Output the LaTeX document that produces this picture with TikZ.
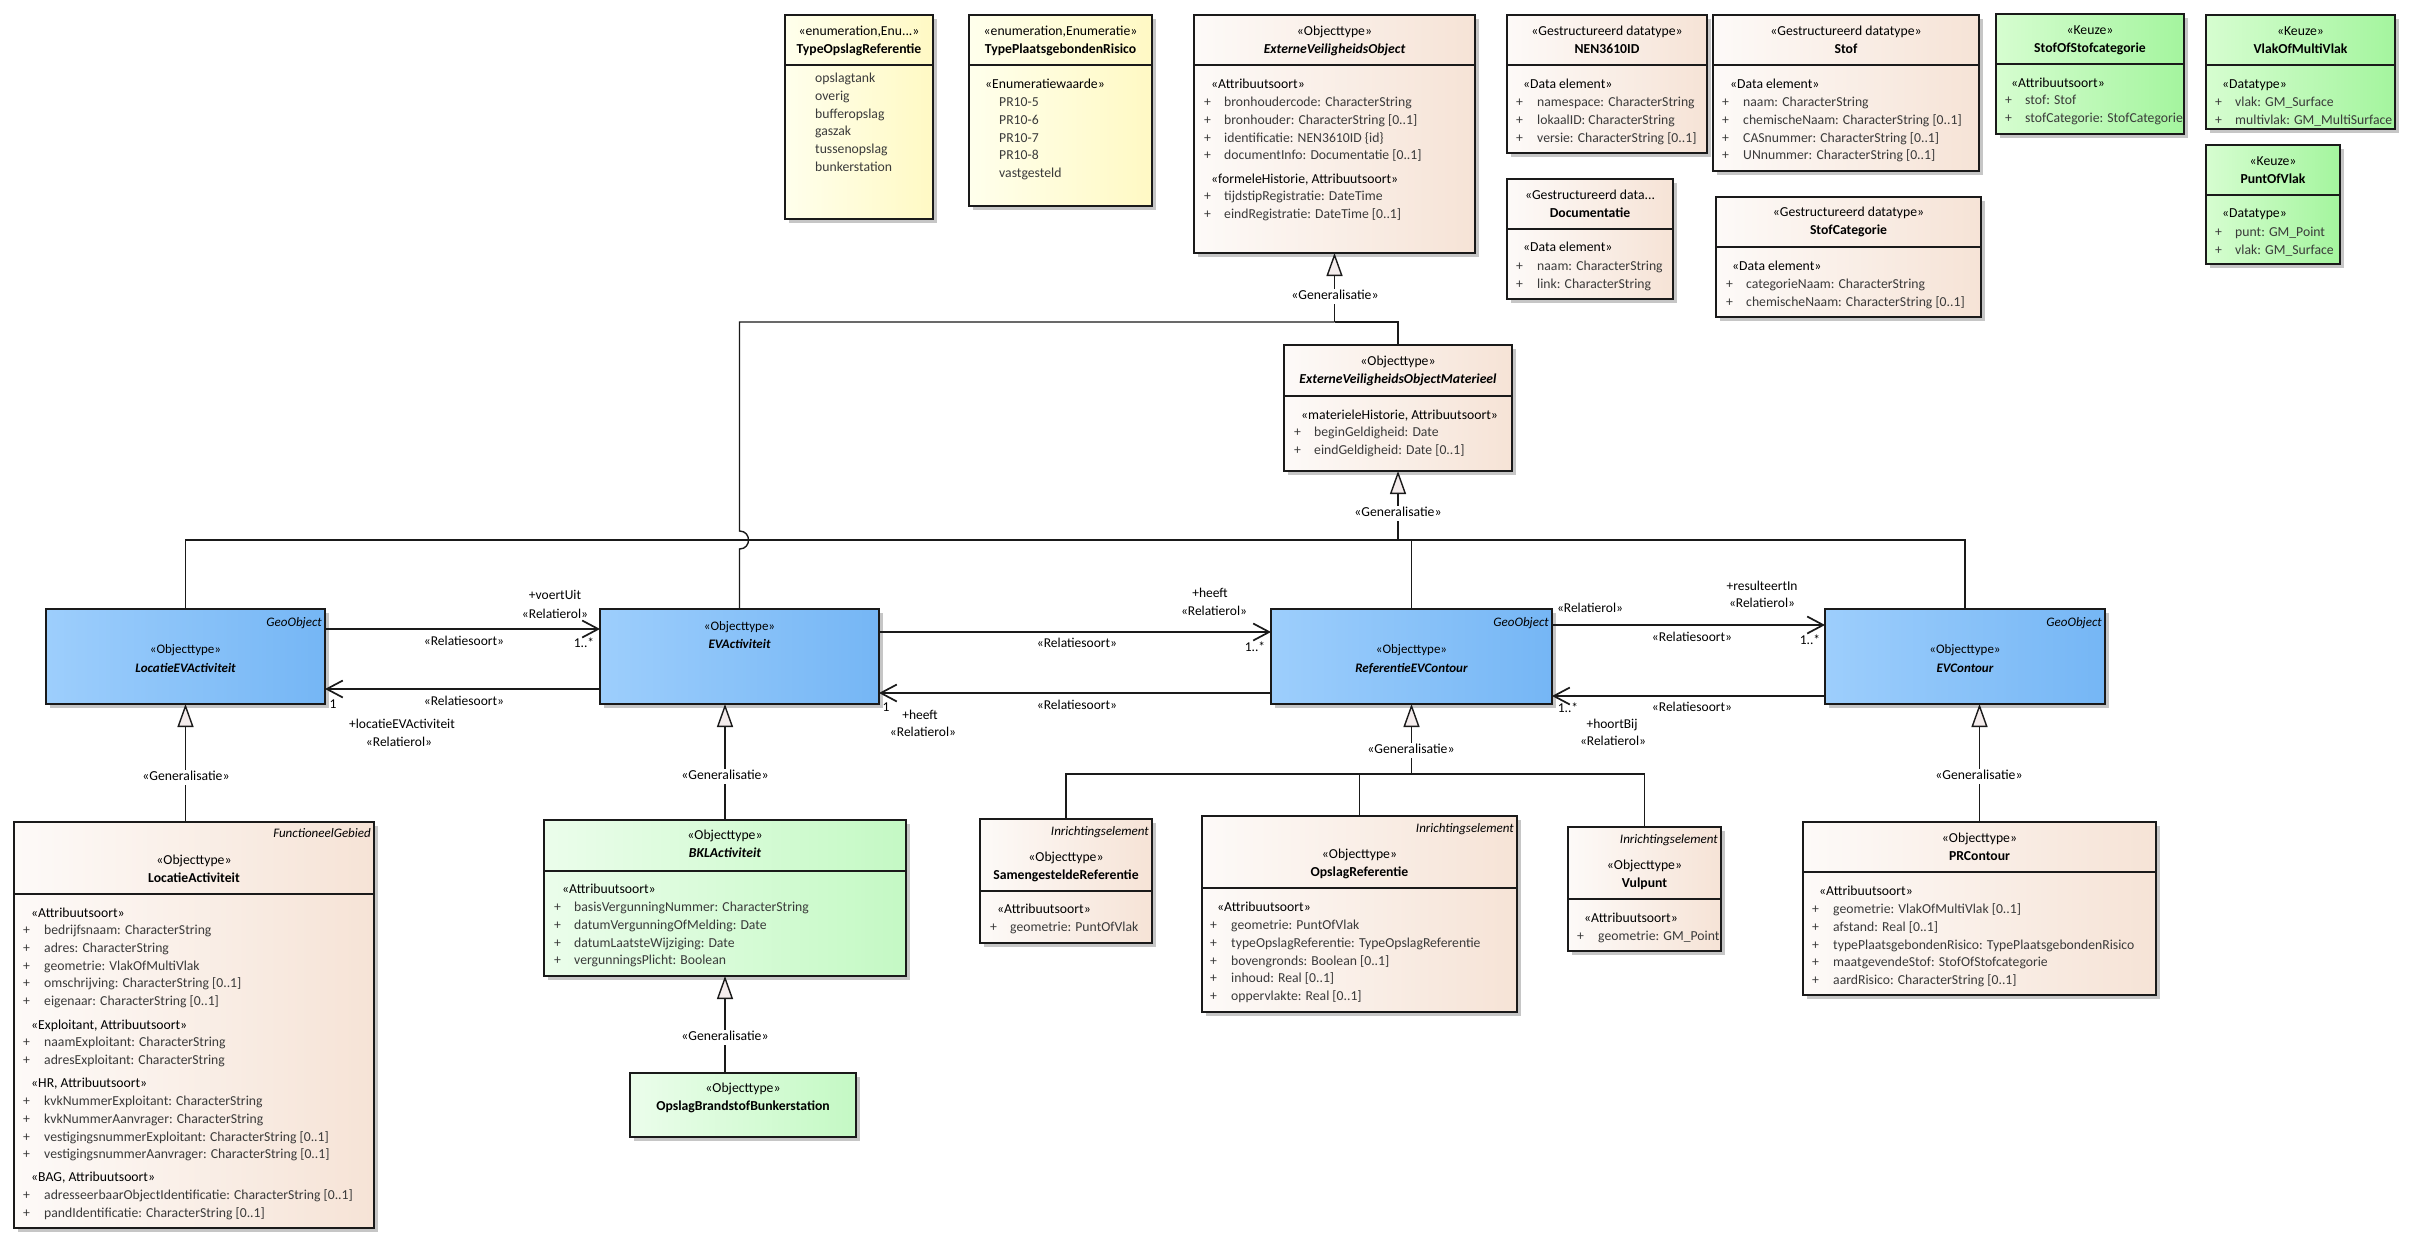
\documentclass[tikz,border=0pt]{standalone}
\usepackage{fontspec}
\setmainfont{Carlito}
\usetikzlibrary{arrows.meta}

\definecolor{edge}{HTML}{1A1A1A}
\definecolor{txt}{HTML}{3A3A3A}
\definecolor{orL}{HTML}{FDFAF8}
\definecolor{orR}{HTML}{F6E3D6}
\definecolor{blL}{HTML}{9DCEFC}
\definecolor{blR}{HTML}{75B6F5}
\definecolor{grL}{HTML}{D6FDD0}
\definecolor{grR}{HTML}{A4F59E}
\definecolor{lgL}{HTML}{EBFDEB}
\definecolor{lgR}{HTML}{C4F9C4}
\definecolor{ylL}{HTML}{FFFFEC}
\definecolor{ylR}{HTML}{FFF9C4}
\definecolor{genfill}{HTML}{F4ECEC}
\definecolor{boxshade}{HTML}{C6C6C6}

\newcommand\umlclass[6]{%
  \fill[boxshade] (#2+4,#3+4) rectangle (#4+4,#5+4);
  \node[classbox,#6,minimum width={#4-#2},minimum height={#5-#3}] (#1) at ({(#2+#4)/2},{(#3+#5)/2}) {};}
\newcommand\umldiv[2]{\draw[compline] (#1.west |- 0,#2) -- (#1.east |- 0,#2);}
\newcommand\umlhead[5]{%
  \node[stereo] (#1-st) at (#1.center |- 0,#2) {#3};
  \node[#4] (#1-nm) at (#1.center |- 0,#2+18) {#5};}
\newcommand\umlattrs[5]{%
  \foreach \a [count=\i from 0] in {#5} {
    \node[attr] (#1-p\i) at (#2,{#4+17.8*\i}) {+};
    \node[attr] (#1-a\i) at (#3,{#4+17.8*\i}) {\a};}}

\begin{document}
\begin{tikzpicture}[x=1pt,y=-1pt,
    every node/.style={font=\fontsize{13.7}{17}\selectfont,inner sep=0pt,text height=10pt,text depth=3pt},
    classbox/.style={draw=edge,line width=1.6pt,outer sep=0pt},
    orbox/.style={left color=orL,right color=orR},
    bluebox/.style={left color=blL,right color=blR},
    greenbox/.style={left color=grL,right color=grR},
    lightgreen/.style={left color=lgL,right color=lgR},
    yellowbox/.style={left color=ylL,right color=ylR},
    compline/.style={draw=edge,line width=1.6pt},
    stereo/.style={text=black},
    title/.style={font=\fontsize{13.7}{17}\selectfont\bfseries},
    abstract/.style={font=\fontsize{13.7}{17}\selectfont\bfseries\itshape},
    small/.style={font=\fontsize{13}{16}\selectfont},
    smallabs/.style={font=\fontsize{13}{16}\selectfont\bfseries\itshape},
    attr/.style={anchor=west,text=txt},
    tag/.style={anchor=east,font=\fontsize{13}{16}\selectfont\itshape},
    rl/.style={font=\fontsize{13.5}{16}\selectfont},
    genline/.style={draw=edge,line width=1.4pt},
    gen/.style={genline,-{Triangle[length=23pt,width=16pt,fill=genfill]}},
    assoc/.style={draw=edge,line width=1.7pt,-{Straight Barb[length=16pt,width=17pt]}},
    genlbl/.style={fill=white,inner sep=1pt}]

  \fill[white] (0,0) rectangle (2420,1247);
  \useasboundingbox (0,0) rectangle (2420,1247);

  % top row
  \umlclass{TOR}{785}{15}{933}{219}{yellowbox}
  \umldiv{TOR}{65}
  \umlhead{TOR}{32}{«enumeration,Enu...»}{title}{TypeOpslagReferentie}
  \foreach \v [count=\i from 0] in {opslagtank,overig,bufferopslag,gaszak,tussenopslag,bunkerstation}
    \node[attr] (TOR-v\i) at (815,{79+17.8*\i}) {\v};

  \umlclass{TPR}{969}{15}{1152}{206}{yellowbox}
  \umldiv{TPR}{65}
  \umlhead{TPR}{32}{«enumeration,Enumeratie»}{title}{TypePlaatsgebondenRisico}
  \node[stereo,anchor=west] (TPR-c) at (985,85) {«Enumeratiewaarde»};
  \foreach \v [count=\i from 0] in {PR10-5,PR10-6,PR10-7,PR10-8,vastgesteld}
    \node[attr] (TPR-v\i) at (999,{103+17.8*\i}) {\v};

  \umlclass{EVO}{1194}{15}{1475}{253}{orbox}
  \umldiv{EVO}{65}
  \umlhead{EVO}{32}{«Objecttype»}{abstract}{ExterneVeiligheidsObject}
  \node[stereo,anchor=west] (EVO-c1) at (1211,85) {«Attribuutsoort»};
  \umlattrs{EVO1}{1204}{1224}{103}{bronhoudercode: CharacterString,bronhouder: CharacterString [0..1],identificatie: NEN3610ID \{id\},documentInfo: Documentatie [0..1]}
  \node[stereo,anchor=west] (EVO-c2) at (1211,180) {«formeleHistorie, Attribuutsoort»};
  \umlattrs{EVO2}{1204}{1224}{197}{tijdstipRegistratie: DateTime,eindRegistratie: DateTime [0..1]}

  \umlclass{NEN}{1507}{15}{1707}{153}{orbox}
  \umldiv{NEN}{65}
  \umlhead{NEN}{32}{«Gestructureerd datatype»}{title}{NEN3610ID}
  \node[stereo,anchor=west] (NEN-c) at (1523,85) {«Data element»};
  \umlattrs{NEN}{1516}{1537}{103}{namespace: CharacterString,lokaalID: CharacterString,versie: CharacterString [0..1]}

  \umlclass{STOF}{1713}{15}{1979}{171}{orbox}
  \umldiv{STOF}{65}
  \umlhead{STOF}{32}{«Gestructureerd datatype»}{title}{Stof}
  \node[stereo,anchor=west] (STOF-c) at (1730,85) {«Data element»};
  \umlattrs{STOF}{1722}{1743}{103}{naam: CharacterString,chemischeNaam: CharacterString [0..1],CASnummer: CharacterString [0..1],UNnummer: CharacterString [0..1]}

  \umlclass{DOC}{1507}{179}{1673}{299}{orbox}
  \umldiv{DOC}{229}
  \umlhead{DOC}{196}{«Gestructureerd data...}{title}{Documentatie}
  \node[stereo,anchor=west] (DOC-c) at (1523,248) {«Data element»};
  \umlattrs{DOC}{1516}{1537}{267}{naam: CharacterString,link: CharacterString}

  \umlclass{STC}{1716}{197}{1981}{317}{orbox}
  \umldiv{STC}{247}
  \umlhead{STC}{213}{«Gestructureerd datatype»}{title}{StofCategorie}
  \node[stereo,anchor=west] (STC-c) at (1732,267) {«Data element»};
  \umlattrs{STC}{1726}{1746}{285}{categorieNaam: CharacterString,chemischeNaam: CharacterString [0..1]}

  \umlclass{SOS}{1996}{14}{2184}{134}{greenbox}
  \umldiv{SOS}{64}
  \umlhead{SOS}{31}{«Keuze»}{title}{StofOfStofcategorie}
  \node[stereo,anchor=west] (SOS-c) at (2011,84) {«Attribuutsoort»};
  \umlattrs{SOS}{2005}{2025}{101}{stof: Stof,stofCategorie: StofCategorie}

  \umlclass{VMV}{2206}{15}{2395}{129}{greenbox}
  \umldiv{VMV}{65}
  \umlhead{VMV}{32}{«Keuze»}{title}{VlakOfMultiVlak}
  \node[stereo,anchor=west] (VMV-c) at (2222,85) {«Datatype»};
  \umlattrs{VMV}{2215}{2235}{103}{vlak: GM\_Surface,multivlak: GM\_MultiSurface}

  \umlclass{POV}{2206}{145}{2340}{264}{greenbox}
  \umldiv{POV}{195}
  \umlhead{POV}{162}{«Keuze»}{title}{PuntOfVlak}
  \node[stereo,anchor=west] (POV-c) at (2222,214) {«Datatype»};
  \umlattrs{POV}{2215}{2235}{233}{punt: GM\_Point,vlak: GM\_Surface}

  \umlclass{EVOM}{1284}{345}{1512}{471}{orbox}
  \umldiv{EVOM}{396}
  \umlhead{EVOM}{362}{«Objecttype»}{abstract}{ExterneVeiligheidsObjectMaterieel}
  \node[stereo,anchor=west] (EVOM-c) at (1301,416) {«materieleHistorie, Attribuutsoort»};
  \umlattrs{EVOM}{1294}{1314}{433}{beginGeldigheid: Date,eindGeldigheid: Date [0..1]}

  % middle row
  \umlclass{LEA}{46}{609}{325}{704}{bluebox}
  \node[tag] (LEA-tag) at ([xshift=-3pt]LEA.east |- 0,623) {GeoObject};
  \node[small] (LEA-st) at (LEA.center |- 0,650) {«Objecttype»};
  \node[smallabs] (LEA-nm) at (LEA.center |- 0,669) {LocatieEVActiviteit};

  \umlclass{EVA}{600}{609}{879}{704}{bluebox}
  \node[small] (EVA-st) at (EVA.center |- 0,627) {«Objecttype»};
  \node[smallabs] (EVA-nm) at (EVA.center |- 0,645) {EVActiviteit};

  \umlclass{REC}{1271}{609}{1552}{704}{bluebox}
  \node[tag] (REC-tag) at ([xshift=-3pt]REC.east |- 0,623) {GeoObject};
  \node[small] (REC-st) at (REC.center |- 0,650) {«Objecttype»};
  \node[smallabs] (REC-nm) at (REC.center |- 0,669) {ReferentieEVContour};

  \umlclass{EVC}{1825}{609}{2105}{704}{bluebox}
  \node[tag] (EVC-tag) at ([xshift=-3pt]EVC.east |- 0,623) {GeoObject};
  \node[small] (EVC-st) at (EVC.center |- 0,650) {«Objecttype»};
  \node[smallabs] (EVC-nm) at (EVC.center |- 0,669) {EVContour};

  % bottom row
  \umlclass{LA}{14}{822}{374}{1228}{orbox}
  \umldiv{LA}{894}
  \node[tag] (LA-tag) at ([xshift=-3pt]LA.east |- 0,834) {FunctioneelGebied};
  \umlhead{LA}{861}{«Objecttype»}{title}{LocatieActiviteit}
  \node[stereo,anchor=west] (LA-c1) at (31,914) {«Attribuutsoort»};
  \umlattrs{LA1}{23}{44}{931}{bedrijfsnaam: CharacterString,adres: CharacterString,geometrie: VlakOfMultiVlak,omschrijving: CharacterString [0..1],eigenaar: CharacterString [0..1]}
  \node[stereo,anchor=west] (LA-c2) at (31,1026) {«Exploitant, Attribuutsoort»};
  \umlattrs{LA2}{23}{44}{1043}{naamExploitant: CharacterString,adresExploitant: CharacterString}
  \node[stereo,anchor=west] (LA-c3) at (31,1084) {«HR, Attribuutsoort»};
  \umlattrs{LA3}{23}{44}{1102}{kvkNummerExploitant: CharacterString,kvkNummerAanvrager: CharacterString,vestigingsnummerExploitant: CharacterString [0..1],vestigingsnummerAanvrager: CharacterString [0..1]}
  \node[stereo,anchor=west] (LA-c4) at (31,1178) {«BAG, Attribuutsoort»};
  \umlattrs{LA4}{23}{44}{1196}{adresseerbaarObjectIdentificatie: CharacterString [0..1],pandIdentificatie: CharacterString [0..1]}

  \umlclass{BKL}{544}{820}{906}{976}{lightgreen}
  \umldiv{BKL}{871}
  \umlhead{BKL}{836}{«Objecttype»}{abstract}{BKLActiviteit}
  \node[stereo,anchor=west] (BKL-c) at (562,890) {«Attribuutsoort»};
  \umlattrs{BKL}{554}{574}{908}{basisVergunningNummer: CharacterString,datumVergunningOfMelding: Date,datumLaatsteWijziging: Date,vergunningsPlicht: Boolean}

  \umlclass{OBB}{630}{1073}{856}{1137}{lightgreen}
  \umlhead{OBB}{1089}{«Objecttype»}{title}{OpslagBrandstofBunkerstation}

  \umlclass{SR}{980}{819}{1152}{943}{orbox}
  \umldiv{SR}{891}
  \node[tag] (SR-tag) at ([xshift=-3pt]SR.east |- 0,832) {Inrichtingselement};
  \umlhead{SR}{858}{«Objecttype»}{title}{SamengesteldeReferentie}
  \node[stereo,anchor=west] (SR-c) at (997,910) {«Attribuutsoort»};
  \umlattrs{SR}{990}{1010}{928}{geometrie: PuntOfVlak}

  \umlclass{OR}{1202}{816}{1517}{1012}{orbox}
  \umldiv{OR}{888}
  \node[tag] (OR-tag) at ([xshift=-3pt]OR.east |- 0,829) {Inrichtingselement};
  \umlhead{OR}{855}{«Objecttype»}{title}{OpslagReferentie}
  \node[stereo,anchor=west] (OR-c) at (1217,908) {«Attribuutsoort»};
  \umlattrs{OR}{1210}{1231}{926}{geometrie: PuntOfVlak,typeOpslagReferentie: TypeOpslagReferentie,bovengronds: Boolean [0..1],inhoud: Real [0..1],oppervlakte: Real [0..1]}

  \umlclass{VP}{1568}{827}{1721}{951}{orbox}
  \umldiv{VP}{899}
  \node[tag] (VP-tag) at ([xshift=-3pt]VP.east |- 0,840) {Inrichtingselement};
  \umlhead{VP}{866}{«Objecttype»}{title}{Vulpunt}
  \node[stereo,anchor=west] (VP-c) at (1584,919) {«Attribuutsoort»};
  \umlattrs{VP}{1577}{1598}{937}{geometrie: GM\_Point}

  \umlclass{PRC}{1803}{822}{2156}{995}{orbox}
  \umldiv{PRC}{872}
  \umlhead{PRC}{839}{«Objecttype»}{title}{PRContour}
  \node[stereo,anchor=west] (PRC-c) at (1819,892) {«Attribuutsoort»};
  \umlattrs{PRC}{1812}{1833}{910}{geometrie: VlakOfMultiVlak [0..1],afstand: Real [0..1],typePlaatsgebondenRisico: TypePlaatsgebondenRisico,maatgevendeStof: StofOfStofcategorie,aardRisico: CharacterString [0..1]}

  % generalisations
  \coordinate (evoj) at (EVO.south |- 0,322);
  \coordinate (evomj) at (EVOM.south |- 0,540);
  \coordinate (recj) at (REC.south |- 0,774);
  \draw[genline] (EVA.north) -- (EVA.north |- 0,549)
    .. controls ([xshift=12pt]EVA.north |- 0,549) and ([xshift=12pt]EVA.north |- 0,531) .. (EVA.north |- 0,531)
    -- (EVA.north |- evoj) -- (evoj);
  \draw[genline] (EVOM.north) -- (EVOM.north |- evoj) -- (evoj);
  \draw[gen] (evoj) -- (EVO.south);
  \draw[genline] (LEA.north) -- (LEA.north |- evomj) -- (EVC.north |- evomj) -- (EVC.north);
  \draw[genline] (REC.north) -- (REC.north |- evomj);
  \draw[gen] (evomj) -- (EVOM.south);
  \draw[gen] (LA.north -| LEA.south) -- (LEA.south);
  \draw[gen] (BKL.north) -- (BKL.north |- EVA.south);
  \draw[gen] (OBB.north -| BKL.south) -- (BKL.south);
  \draw[genline] (SR.north) -- (SR.north |- recj) -- (VP.north |- recj) -- (VP.north);
  \draw[genline] (OR.north) -- (OR.north |- recj);
  \draw[gen] (recj) -- (REC.south);
  \draw[gen] (PRC.north) -- (PRC.north |- EVC.south);
  \foreach \n/\x/\y in {g1/1335/296,g2/1398/513,g3/186/777,g4/725/776,g5/725/1037,g6/1411/750,g7/1979/776}
    \node[genlbl] (\n) at (\x,\y) {«Generalisatie»};

  % associations
  \draw[assoc] (LEA.east |- 0,629) -- (EVA.west |- 0,629);
  \draw[assoc] (EVA.west |- 0,689) -- (LEA.east |- 0,689);
  \draw[assoc] (EVA.east |- 0,632) -- (REC.west |- 0,632);
  \draw[assoc] (REC.west |- 0,693) -- (EVA.east |- 0,693);
  \draw[assoc] (REC.east |- 0,625) -- (EVC.west |- 0,625);
  \draw[assoc] (EVC.west |- 0,696) -- (REC.east |- 0,696);
  \foreach \x/\y/\t [count=\i] in {555/596/+voertUit,555/615/«Relatierol»,464/642/«Relatiesoort»,584/644/1..*,
      464/702/«Relatiesoort»,333/705/1,402/725/+locatieEVActiviteit,399/743/«Relatierol»,
      1210/594/+heeft,1214/612/«Relatierol»,1077/644/«Relatiesoort»,1255/648/1..*,
      1077/706/«Relatiesoort»,886/708/1,920/716/+heeft,923/733/«Relatierol»,
      1590/609/«Relatierol»,1762/587/+resulteertIn,1762/604/«Relatierol»,1692/638/«Relatiesoort»,1810/641/1..*,
      1568/709/1..*,1692/708/«Relatiesoort»,1612/725/+hoortBij,1613/742/«Relatierol»}
    \node[rl] (rl\i) at (\x,\y) {\t};
\end{tikzpicture}
\end{document}
